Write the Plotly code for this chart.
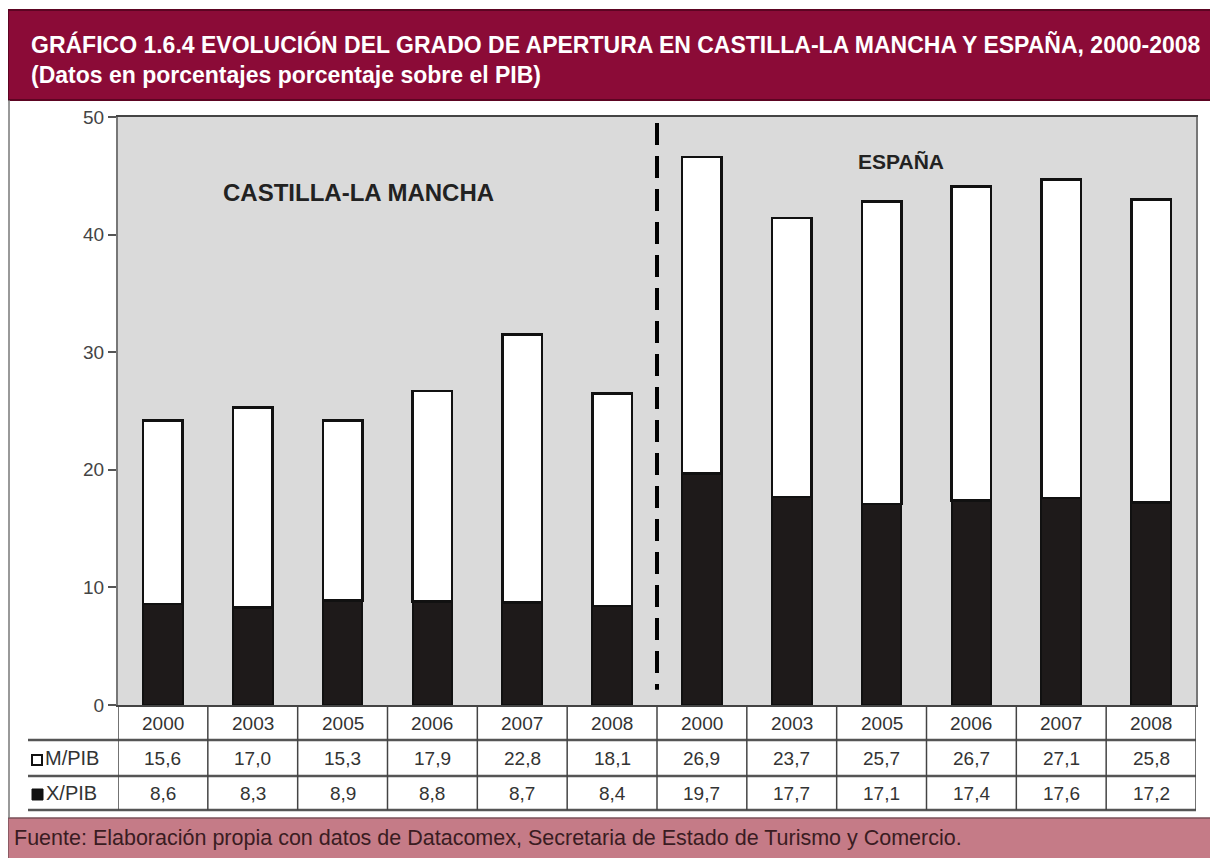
import plotly.graph_objects as go

# ---- data ----
years = ['2000', '2003', '2005', '2006', '2007', '2008',
         '2000', '2003', '2005', '2006', '2007', '2008']
regions = ['CASTILLA-LA MANCHA'] * 6 + ['ESPAÑA'] * 6
m_pib = [15.6, 17.0, 15.3, 17.9, 22.8, 18.1, 26.9, 23.7, 25.7, 26.7, 27.1, 25.8]
x_pib = [8.6, 8.3, 8.9, 8.8, 8.7, 8.4, 19.7, 17.7, 17.1, 17.4, 17.6, 17.2]
series_names = ['M/PIB', 'X/PIB']
y_ticks = [0, 10, 20, 30, 40, 50]

title_l1 = 'GRÁFICO 1.6.4 EVOLUCIÓN DEL GRADO DE APERTURA EN CASTILLA-LA MANCHA Y ESPAÑA, 2000-2008'
title_l2 = '(Datos en porcentajes porcentaje sobre el PIB)'
source = 'Fuente: Elaboración propia con datos de Datacomex, Secretaria de Estado de Turismo y Comercio.'

# ---- layout geometry (page pixels; the page body adds an 8px offset) ----
OFF = 8
W, H = 1210, 850
L, R, T, B = 110, 22, 109, 153
PW = W - L - R
PH = H - T - B


def px(x):
    return (x - OFF - L) / PW


def py(y):
    return (H - B - (y - OFF)) / PH


FONT = 'Liberation Sans, Arial, sans-serif'

xpos = list(range(len(years)))

fig = go.Figure()
fig.add_trace(go.Bar(
    x=xpos, y=x_pib, name=series_names[1], width=0.44,
    marker=dict(color='#1e1a1a', line=dict(color='#111111', width=2)),
))
fig.add_trace(go.Bar(
    x=xpos, y=m_pib, name=series_names[0], width=0.44,
    marker=dict(color='#ffffff', line=dict(color='#111111', width=2.5)),
))

shapes = []
annotations = []

# title bar
shapes.append(dict(type='rect', xref='paper', yref='paper', x0=px(8), x1=px(1222),
                   y0=py(100), y1=py(10), fillcolor='#8B0B37',
                   line=dict(color='#5c0422', width=2), layer='below'))
annotations.append(dict(xref='paper', yref='paper', x=px(29), y=py(44), text='<b>' + title_l1 + '</b>',
                        showarrow=False, xanchor='left', yanchor='middle',
                        font=dict(family=FONT, size=23, color='#ffffff')))
annotations.append(dict(xref='paper', yref='paper', x=px(29), y=py(75), text='<b>' + title_l2 + '</b>',
                        showarrow=False, xanchor='left', yanchor='middle',
                        font=dict(family=FONT, size=23, color='#ffffff')))

# footer bar
shapes.append(dict(type='rect', xref='paper', yref='paper', x0=px(8), x1=px(1222),
                   y0=py(862), y1=py(818), fillcolor='#C57B87',
                   line=dict(color='#7a5058', width=1.5), layer='below'))
annotations.append(dict(xref='paper', yref='paper', x=px(12), y=py(838), text=source,
                        showarrow=False, xanchor='left', yanchor='middle',
                        font=dict(family=FONT, size=21.5, color='#3a1c22')))

# left frame line
shapes.append(dict(type='line', xref='paper', yref='paper', x0=px(9), x1=px(9),
                   y0=py(100), y1=py(818), line=dict(color='#777777', width=1.5)))

# dashed separator between regions
shapes.append(dict(type='line', xref='x', yref='y', x0=5.5, x1=5.5, y0=49.5, y1=1.3,
                   line=dict(color='#000000', width=4, dash='22px,11px')))

# region labels
annotations.append(dict(xref='paper', yref='paper', x=px(358), y=py(192),
                        text='<b>CASTILLA-LA MANCHA</b>', showarrow=False,
                        xanchor='center', yanchor='middle',
                        font=dict(family=FONT, size=24, color='#222222')))
annotations.append(dict(xref='paper', yref='paper', x=px(856), y=py(161),
                        text='<b>ESPAÑA</b>', showarrow=False,
                        xanchor='left', yanchor='middle',
                        font=dict(family=FONT, size=21, color='#222222')))

# data table
row_bottoms = [740, 776, 810]
for yy in row_bottoms:
    shapes.append(dict(type='line', xref='paper', yref='paper', x0=px(28), x1=1,
                       y0=py(yy), y1=py(yy), line=dict(color='#555555', width=2.5)))
for i in range(len(years) + 1):
    shapes.append(dict(type='line', xref='x', yref='paper', x0=i - 0.5, x1=i - 0.5,
                       y0=0, y1=py(810), line=dict(color='#444444', width=1.5)))

row_centers = [723, 758, 793]
for i, yr in enumerate(years):
    for r, txt in enumerate([yr,
                             f'{m_pib[i]:.1f}'.replace('.', ','),
                             f'{x_pib[i]:.1f}'.replace('.', ',')]):
        annotations.append(dict(xref='x', yref='paper', x=i, y=py(row_centers[r]), text=txt,
                                showarrow=False, xanchor='center', yanchor='middle',
                                font=dict(family=FONT, size=19, color='#333333')))

# row labels with legend squares
shapes.append(dict(type='rect', xref='paper', yref='paper', x0=px(32), x1=px(42),
                   y0=py(765), y1=py(755), fillcolor='#ffffff',
                   line=dict(color='#111111', width=2)))
shapes.append(dict(type='rect', xref='paper', yref='paper', x0=px(32), x1=px(43),
                   y0=py(800), y1=py(789), fillcolor='#111111',
                   line=dict(color='#111111', width=1)))
annotations.append(dict(xref='paper', yref='paper', x=px(43), y=py(row_centers[1]),
                        text=series_names[0], showarrow=False, xanchor='left', yanchor='middle',
                        font=dict(family=FONT, size=20, color='#333333')))
annotations.append(dict(xref='paper', yref='paper', x=px(44), y=py(row_centers[2]),
                        text=series_names[1], showarrow=False, xanchor='left', yanchor='middle',
                        font=dict(family=FONT, size=20, color='#333333')))

fig.update_layout(
    width=W, height=H,
    margin=dict(l=L, r=R, t=T, b=B, pad=0),
    paper_bgcolor='#ffffff',
    plot_bgcolor='#DADADA',
    barmode='stack',
    showlegend=False,
    shapes=shapes,
    annotations=annotations,
    xaxis=dict(range=[-0.5, 11.5], showticklabels=False, ticks='', showgrid=False,
               zeroline=False, showline=True, linecolor='#444444', linewidth=2,
               mirror=True, fixedrange=True),
    yaxis=dict(range=[0, 50], tickvals=y_ticks, ticks='outside', ticklen=8,
               tickcolor='#555555', tickwidth=1.5, showgrid=False, zeroline=False,
               showline=True, linecolor='#777777', linewidth=2, mirror=True,
               tickfont=dict(family=FONT, size=19, color='#444444'), fixedrange=True),
)

fig.write_html('out.html')
